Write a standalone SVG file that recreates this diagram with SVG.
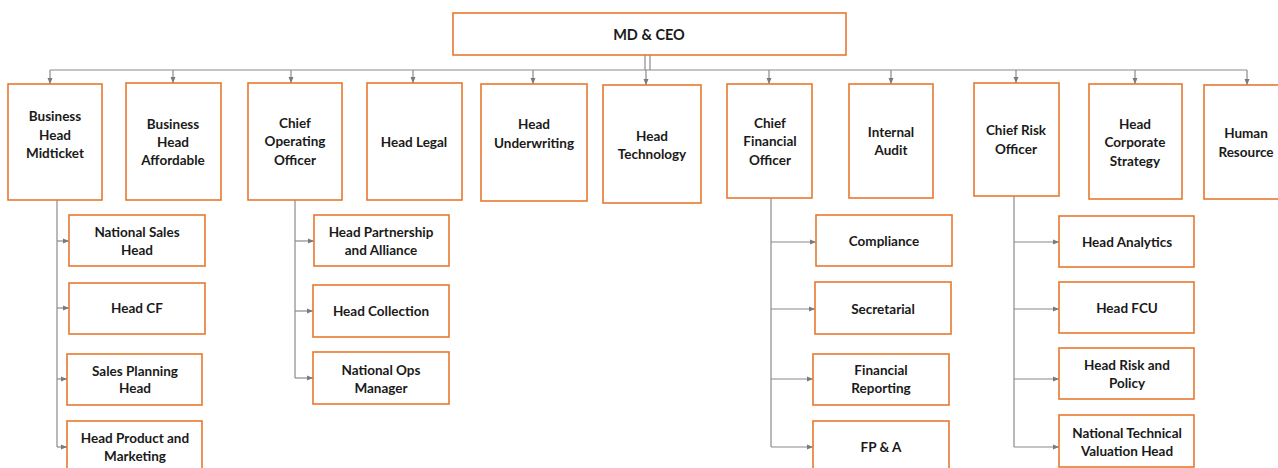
<svg xmlns="http://www.w3.org/2000/svg" width="1278" height="468" viewBox="0 0 1278 468">
<style>
.box{fill:#fff;stroke:#E8782F;stroke-width:1.6}
.t{font-family:Lato,"Liberation Sans",sans-serif;font-weight:bold;font-size:13.5px;fill:#1a1a1a;text-anchor:middle}
.big{font-size:14.5px}
.c{stroke:#8a8a8a;stroke-width:1.2;fill:none}
.a{stroke:#8a8a8a;stroke-width:1.2;fill:none;marker-end:url(#ah)}
</style>
<defs>
<marker id="ah" markerUnits="userSpaceOnUse" markerWidth="6" markerHeight="6" refX="6" refY="3" orient="auto">
<path d="M0,0.5 L6,3 L0,5.5 z" fill="#7a7a7a"/>
</marker>
</defs>
<rect width="1278" height="468" fill="#fff"/>
<g id="connectors">
<line class="c" x1="645" y1="55" x2="645" y2="70"/>
<line class="c" x1="650" y1="55" x2="650" y2="70"/>
<line class="c" x1="50" y1="70" x2="1247" y2="70"/>
<line class="a" x1="50" y1="70" x2="50" y2="84"/>
<line class="a" x1="173" y1="70" x2="173" y2="83"/>
<line class="a" x1="291" y1="70" x2="291" y2="83"/>
<line class="a" x1="413" y1="70" x2="413" y2="83"/>
<line class="a" x1="533" y1="70" x2="533" y2="84"/>
<line class="a" x1="646" y1="70" x2="646" y2="85"/>
<line class="a" x1="769" y1="70" x2="769" y2="84"/>
<line class="a" x1="891" y1="70" x2="891" y2="84"/>
<line class="a" x1="1016" y1="70" x2="1016" y2="83"/>
<line class="a" x1="1135" y1="70" x2="1135" y2="84"/>
<line class="a" x1="1247" y1="70" x2="1247" y2="85"/>
<!-- Midticket children -->
<line class="c" x1="57" y1="200" x2="57" y2="447"/>
<line class="a" x1="57" y1="241" x2="69" y2="241"/>
<line class="a" x1="57" y1="308" x2="69" y2="308"/>
<line class="a" x1="57" y1="379" x2="67" y2="379"/>
<line class="a" x1="57" y1="447" x2="67" y2="447"/>
<!-- COO children -->
<line class="c" x1="295" y1="200" x2="295" y2="378"/>
<line class="a" x1="295" y1="241" x2="314" y2="241"/>
<line class="a" x1="295" y1="311" x2="313" y2="311"/>
<line class="a" x1="295" y1="378" x2="313" y2="378"/>
<!-- CFO children -->
<line class="c" x1="771" y1="198" x2="771" y2="447"/>
<line class="a" x1="771" y1="242" x2="816" y2="242"/>
<line class="a" x1="771" y1="309" x2="815" y2="309"/>
<line class="a" x1="771" y1="379" x2="813" y2="379"/>
<line class="a" x1="771" y1="447" x2="813" y2="447"/>
<!-- CRO children -->
<line class="c" x1="1014" y1="196" x2="1014" y2="447"/>
<line class="a" x1="1014" y1="242" x2="1059" y2="242"/>
<line class="a" x1="1014" y1="309" x2="1059" y2="309"/>
<line class="a" x1="1014" y1="379" x2="1059" y2="379"/>
<line class="a" x1="1014" y1="447" x2="1059" y2="447"/>
</g>
<g id="ceo"><rect class="box" x="453" y="13" width="393" height="42"/><text class="t big" x="649" y="40">MD &amp; CEO</text></g>
<g id="bh-midticket"><rect class="box" x="8" y="84" width="94" height="116"/><text class="t" x="55" y="120.5">Business</text><text class="t" x="55" y="139.5">Head</text><text class="t" x="55" y="157.5">Midticket</text></g>
<g id="bh-affordable"><rect class="box" x="126" y="83" width="95" height="117"/><text class="t" x="173" y="128.5">Business</text><text class="t" x="173" y="146.5">Head</text><text class="t" x="173" y="164.5">Affordable</text></g>
<g id="coo"><rect class="box" x="248" y="83" width="94" height="117"/><text class="t" x="295" y="127.5">Chief</text><text class="t" x="295" y="145.5">Operating</text><text class="t" x="295" y="164.5">Officer</text></g>
<g id="head-legal"><rect class="box" x="367" y="83" width="95" height="117"/><text class="t" x="414" y="146.5">Head Legal</text></g>
<g id="head-underwriting"><rect class="box" x="481" y="84" width="106" height="117"/><text class="t" x="534" y="128.5">Head</text><text class="t" x="534" y="147.5">Underwriting</text></g>
<g id="head-technology"><rect class="box" x="603" y="85" width="98" height="118"/><text class="t" x="652" y="140.5">Head</text><text class="t" x="652" y="158.5">Technology</text></g>
<g id="cfo"><rect class="box" x="727" y="84" width="85" height="114"/><text class="t" x="770" y="127.5">Chief</text><text class="t" x="770" y="145.5">Financial</text><text class="t" x="770" y="164.5">Officer</text></g>
<g id="internal-audit"><rect class="box" x="849" y="84" width="84" height="114"/><text class="t" x="891" y="136.5">Internal</text><text class="t" x="891" y="154.5">Audit</text></g>
<g id="cro"><rect class="box" x="974" y="83" width="85" height="113"/><text class="t" x="1016" y="134.5">Chief Risk</text><text class="t" x="1016" y="153.5">Officer</text></g>
<g id="head-corp-strategy"><rect class="box" x="1089" y="84" width="93" height="115"/><text class="t" x="1135" y="128.5">Head</text><text class="t" x="1135" y="146.5">Corporate</text><text class="t" x="1135" y="165.5">Strategy</text></g>
<g id="human-resource"><rect class="box" x="1204" y="85" width="80" height="114"/><text class="t" x="1246" y="137.5">Human</text><text class="t" x="1246" y="156.5">Resource</text></g>
<g id="national-sales-head"><rect class="box" x="69" y="215" width="136" height="51"/><text class="t" x="137" y="236.5">National Sales</text><text class="t" x="137" y="254.5">Head</text></g>
<g id="head-cf"><rect class="box" x="69" y="283" width="136" height="51"/><text class="t" x="137" y="312.5">Head CF</text></g>
<g id="sales-planning-head"><rect class="box" x="67" y="354" width="135" height="51"/><text class="t" x="135" y="375.5">Sales Planning</text><text class="t" x="135" y="392.5">Head</text></g>
<g id="head-product-marketing"><rect class="box" x="67" y="421" width="135" height="60"/><text class="t" x="135" y="442.5">Head Product and</text><text class="t" x="135" y="460.5">Marketing</text></g>
<g id="head-partnership"><rect class="box" x="314" y="215" width="135" height="51"/><text class="t" x="381" y="236.5">Head Partnership</text><text class="t" x="381" y="254.5">and Alliance</text></g>
<g id="head-collection"><rect class="box" x="313" y="285" width="136" height="52"/><text class="t" x="381" y="315.5">Head Collection</text></g>
<g id="national-ops-manager"><rect class="box" x="313" y="352" width="136" height="52"/><text class="t" x="381" y="374.5">National Ops</text><text class="t" x="381" y="392.5">Manager</text></g>
<g id="compliance"><rect class="box" x="816" y="215" width="136" height="51"/><text class="t" x="884" y="245.5">Compliance</text></g>
<g id="secretarial"><rect class="box" x="815" y="282" width="136" height="52"/><text class="t" x="883" y="313.5">Secretarial</text></g>
<g id="financial-reporting"><rect class="box" x="813" y="354" width="136" height="51"/><text class="t" x="881" y="374.5">Financial</text><text class="t" x="881" y="392.5">Reporting</text></g>
<g id="fp-a"><rect class="box" x="813" y="421" width="136" height="60"/><text class="t" x="881" y="451.5">FP &amp; A</text></g>
<g id="head-analytics"><rect class="box" x="1059" y="216" width="135" height="51"/><text class="t" x="1127" y="246.5">Head Analytics</text></g>
<g id="head-fcu"><rect class="box" x="1059" y="282" width="135" height="51"/><text class="t" x="1127" y="312.5">Head FCU</text></g>
<g id="head-risk-policy"><rect class="box" x="1059" y="348" width="135" height="51"/><text class="t" x="1127" y="369.5">Head Risk and</text><text class="t" x="1127" y="387.5">Policy</text></g>
<g id="ntv-head"><rect class="box" x="1059" y="415" width="135" height="52"/><text class="t" x="1127" y="437.5">National Technical</text><text class="t" x="1127" y="455.5">Valuation Head</text></g>
</svg>
